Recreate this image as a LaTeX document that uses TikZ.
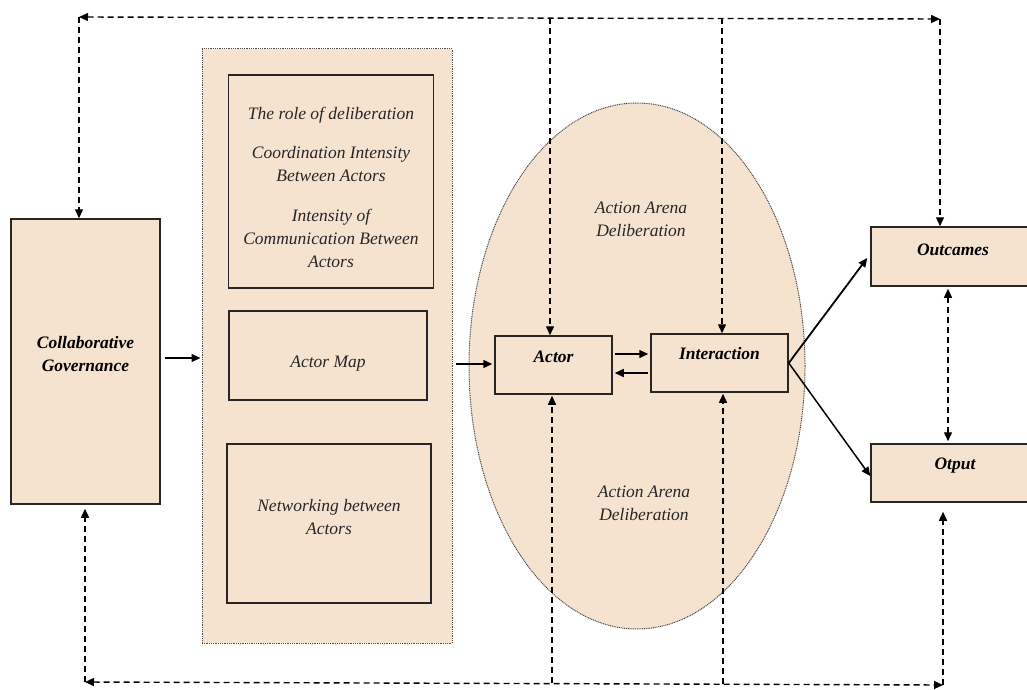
\documentclass[tikz,border=0pt]{standalone}
\usepackage{fontspec}
\setmainfont{Liberation Serif}
\usetikzlibrary{arrows.meta,shapes.geometric,calc}
\definecolor{beige}{HTML}{F5E3D0}
\begin{document}
\begin{tikzpicture}[x=1pt,y=-1pt,
  txt/.style={font=\itshape\fontsize{17.5}{23}\selectfont,align=center,inner sep=0,text=black!85},
  btxt/.style={font=\bfseries\itshape\fontsize{17.5}{23}\selectfont,align=center,inner sep=0},
  box/.style={draw=black!85,line width=1.5pt,fill=beige,inner sep=0,anchor=center},
  wbox/.style={draw=black!85,line width=1.5pt,inner sep=0,anchor=center},
  dotbox/.style={draw=black!70,dash pattern=on 1pt off 0.8pt,line width=1pt,fill=beige,inner sep=0},
  tip/.style={},
  arr/.style={line width=1.5pt,-{Triangle[length=9pt,width=8pt]}},
  darr/.style={line width=1.4pt,dash pattern=on 6pt off 4pt,-{Triangle[length=9pt,width=8pt]}},
  ddarr/.style={line width=1.4pt,dash pattern=on 6pt off 4pt,{Triangle[length=9pt,width=8pt]}-{Triangle[length=9pt,width=8pt]}}]
\clip (0,0) rectangle (1027,690);
% boxes
\node[box,minimum width=149,minimum height=285] (collab) at (85.5,361.5) {};
\node[btxt] (collabt) at (85.5,354.5) {Collaborative\\Governance};
\node[dotbox,minimum width=250,minimum height=594] (panel) at (327,346) {};
\node[wbox,minimum width=205,minimum height=213] (b1) at (331,181.5) {};
\node[txt] (b1a) at (331,115) {The role of deliberation};
\node[txt] (b1b) at (331,164.5) {Coordination Intensity\\Between Actors};
\node[txt] (b1c) at (331,238) {Intensity of\\Communication Between\\Actors};
\node[wbox,minimum width=198,minimum height=89] (b2) at (328,355.5) {};
\node[txt] (b2t) at (328,364) {Actor Map};
\node[wbox,minimum width=204,minimum height=159] (b3) at (329,523.5) {};
\node[txt] (b3t) at (329,517.5) {Networking between\\Actors};
\node[ellipse,dotbox,minimum width=336,minimum height=526] (arena) at (637,366) {};
\node[txt] (ar1) at (641,219.5) {Action Arena\\Deliberation};
\node[txt] (ar2) at (644,503.5) {Action Arena\\Deliberation};
\node[wbox,minimum width=117,minimum height=58] (actor) at (553.5,365) {};
\node[btxt] (actort) at (553.5,357) {Actor};
\node[wbox,minimum width=137,minimum height=58] (inter) at (719.5,363) {};
\node[btxt] (intert) at (719.5,354) {Interaction};
\node[box,minimum width=161,minimum height=59] (outc) at (951.5,256.5) {};
\node[btxt] (outct) at (953,250) {Outcames};
\node[box,minimum width=161,minimum height=58] (otput) at (951.5,473) {};
\node[btxt] (otputt) at (955,466) {Otput};
% solid connectors
\draw[arr] ($(collab.east)+(4,-3.5)$) -- ($(collab.east -| panel.west)+(-1,-3.5)$);
\draw[arr] ($(actor.west -| panel.east)+(3,-1)$) -- ($(actor.west)+(-2,-1)$);
\draw[arr] ($(actor.east)+(2,-11)$) -- ($(actor.east -| inter.west)+(-2,-11)$);
\draw[arr] ($(actor.east -| inter.west)+(-2,8)$) -- ($(actor.east)+(2,8)$);
\draw[arr,line width=1.8pt] (inter.east) -- ($(outc.west)+(-3,1.5)$);
\draw[arr] (inter.east) -- ($(otput.west)+(0,3)$);
\draw[ddarr,shorten <=2pt,shorten >=2pt] ($(outc.south)+(-3.5,0)$) -- ($(otput.north)+(-3.5,0)$);
% dashed feedback loops
\coordinate (tl) at (79,17);
\coordinate (tr) at (940,19);
\coordinate (t1) at (550,18);
\coordinate (t2) at (722,18);
\coordinate (bl) at (85,682);
\coordinate (br) at (943,685);
\coordinate (u1) at (552,683);
\coordinate (u2) at (723,684);
\draw[ddarr] (tl) -- (tr);
\draw[darr] (tl) -- (tl |- collab.north);
\draw[darr] (tr) -- (tr |- outc.north);
\draw[darr] (t1) -- (t1 |- actor.north);
\draw[darr] (t2) -- (t2 |- inter.north);
\draw[ddarr] (bl) -- (br);
\draw[darr,shorten >=4pt] (bl) -- (bl |- collab.south);
\draw[darr,shorten >=9pt] (br) -- (br |- otput.south);
\draw[darr,shorten >=1pt] (u1) -- (u1 |- actor.south);
\draw[darr,shorten >=1pt] (u2) -- (u2 |- inter.south);
\end{tikzpicture}
\end{document}
